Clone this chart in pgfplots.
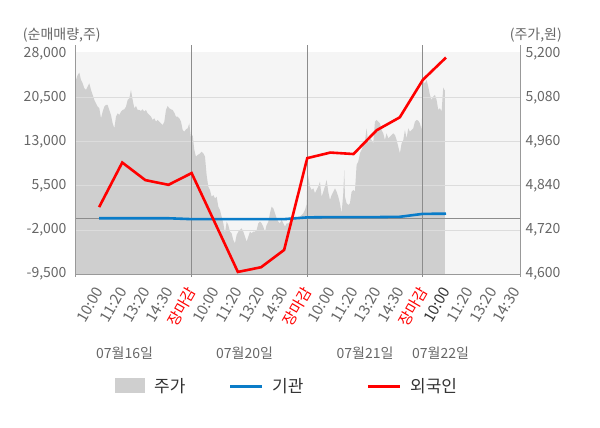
\documentclass[border=0pt]{standalone}
\usepackage{pgfplots}
\pgfplotsset{compat=1.18}
\usepackage{fontspec}
\setmainfont{Noto Sans CJK KR}[Kerning=Off]
\definecolor{bgc}{HTML}{F5F5F5}
\definecolor{areac}{HTML}{CFCFCF}
\definecolor{gridc}{HTML}{DCDCDC}
\definecolor{vgridc}{HTML}{8C8C8C}
\definecolor{axisc}{HTML}{999999}
\definecolor{tickc}{HTML}{666666}
\definecolor{darkc}{HTML}{333333}
\definecolor{redc}{HTML}{FF0000}
\definecolor{bluec}{HTML}{0A7CC8}
\newcommand{\tfont}{\fontsize{14bp}{16bp}\selectfont}
\newcommand{\xfont}{\fontsize{15bp}{17bp}\selectfont}
\newcommand{\lfont}{\fontsize{17bp}{20bp}\selectfont}
\begin{document}
\begin{tikzpicture}
\path[use as bounding box] (-76bp,-154bp) rectangle (524bp,274bp);
\fill[bgc] (0,0) rectangle (444bp,222bp);
% price area (right axis)
\begin{axis}[
  scale only axis, width=444bp, height=229bp,
  xmin=0, xmax=19.2, ymin=4600, ymax=5224.5,
  scaled x ticks=false, scaled y ticks=false,
  axis x line=none, axis y line*=right,
  y axis line style={draw=axisc, line width=1bp},
  ytick={4600,4720,4840,4960,5080,5200},
  yticklabels={{4,600},{4,720},{4,840},{4,960},{5,080},{5,200}},
  major tick length=0,
  yticklabel style={font=\tfont, text=tickc, xshift=2bp},
]
\addplot[fill=areac, draw=none] coordinates {
(0.000,5129.1)(0.072,5142.7)(0.144,5149.1)(0.216,5129.1)(0.288,5120.0)(0.360,5106.4)(0.432,5101.8)(0.504,5110.9)(0.576,5120.0)(0.649,5101.8)(0.721,5088.2)(0.793,5074.5)(0.865,5065.4)(0.937,5056.4)(1.009,5051.8)(1.081,5024.5)(1.153,5042.7)(1.225,5056.4)(1.297,5060.9)(1.369,5060.9)(1.441,5047.3)(1.513,5033.6)(1.585,5010.9)(1.657,4997.3)(1.729,5029.1)(1.801,5038.2)(1.873,5033.6)(1.946,5042.7)(2.018,5047.3)(2.090,5049.1)(2.162,5056.4)(2.234,5074.5)(2.306,5079.1)(2.378,5101.8)(2.450,5074.5)(2.522,5051.8)(2.594,5058.2)(2.666,5047.3)(2.738,5047.3)(2.810,5044.5)(2.882,5049.1)(2.954,5042.7)(3.026,5047.3)(3.098,5038.2)(3.170,5033.6)(3.243,5029.1)(3.315,5020.0)(3.387,5024.5)(3.459,5015.4)(3.531,5020.0)(3.603,5015.4)(3.675,5010.9)(3.747,5006.4)(3.819,5015.4)(3.891,5047.3)(3.963,5058.2)(4.035,5051.8)(4.107,5049.1)(4.179,5047.3)(4.251,5040.0)(4.323,5029.1)(4.395,5029.1)(4.467,5024.5)(4.540,5015.4)(4.612,4992.7)(4.684,4988.2)(4.756,4994.5)(4.828,4997.3)(4.900,5010.9)(4.972,4970.0)(5.044,4979.1)(5.116,4938.2)(5.188,4920.0)(5.260,4924.5)(5.332,4927.3)
(5.361,4929.1)(5.433,4933.6)(5.505,4929.1)(5.577,4920.0)(5.649,4870.0)(5.721,4838.2)(5.794,4829.1)(5.866,4810.9)(5.938,4815.4)(6.010,4806.4)(6.082,4810.9)(6.154,4783.6)(6.226,4774.5)(6.298,4756.4)(6.370,4738.2)(6.442,4710.9)(6.514,4742.7)(6.586,4733.6)(6.658,4715.4)(6.730,4710.9)(6.802,4692.7)(6.874,4683.6)(6.946,4706.4)(7.018,4715.4)(7.090,4720.0)(7.163,4724.5)(7.235,4715.4)(7.307,4701.8)(7.379,4688.2)(7.451,4701.8)(7.523,4715.4)(7.595,4710.9)(7.667,4715.4)(7.739,4715.4)(7.811,4720.0)(7.883,4738.2)(7.955,4742.7)(8.027,4738.2)(8.099,4729.1)(8.171,4715.4)(8.243,4733.6)(8.316,4742.7)(8.388,4765.5)(8.460,4783.6)(8.532,4779.1)(8.604,4765.5)(8.676,4751.8)(8.748,4742.7)(8.820,4738.2)(8.892,4747.3)(8.964,4738.2)(9.036,4729.1)(9.108,4738.2)(9.180,4738.2)(9.252,4742.7)(9.324,4733.6)(9.396,4747.3)(9.468,4751.8)(9.540,4747.3)(9.613,4751.8)(9.685,4756.4)(9.757,4760.9)(9.829,4765.5)(9.901,4774.5)(9.973,4790.0)(10.010,4874.5)(10.045,4865.5)(10.117,4838.2)(10.189,4829.1)(10.261,4833.6)(10.333,4820.0)(10.405,4829.1)(10.477,4838.2)
(10.549,4851.8)(10.621,4810.9)(10.693,4824.5)(10.765,4838.2)(10.837,4856.4)(10.909,4824.5)(10.982,4801.8)(11.054,4815.4)(11.126,4824.5)(11.198,4833.6)(11.270,4824.5)(11.342,4810.9)(11.414,4792.7)(11.486,4765.5)(11.558,4820.0)(11.601,4883.6)(11.630,4810.9)(11.702,4792.7)(11.774,4788.2)(11.846,4792.7)(11.918,4824.5)(11.990,4829.1)(12.062,4824.5)(12.134,4897.3)(12.206,4906.4)(12.279,4929.1)(12.351,4938.2)(12.423,4951.8)(12.495,4960.9)(12.567,4997.3)(12.639,4956.4)(12.711,4970.0)(12.783,4965.4)(12.855,4956.4)(12.927,5015.4)(12.999,5020.0)(13.071,5015.4)(13.143,5010.9)(13.215,4992.7)(13.287,4983.6)(13.359,4965.4)(13.431,4983.6)(13.504,4970.0)(13.576,4974.5)(13.648,4979.1)(13.720,4983.6)(13.792,4979.1)(13.864,4965.4)(13.936,4947.3)(14.008,4929.1)(14.080,4956.4)(14.152,4965.4)(14.224,4992.7)(14.296,4970.0)(14.368,4997.3)(14.440,4988.2)(14.512,4992.7)(14.584,4997.3)(14.656,5015.4)(14.728,5020.0)(14.801,5018.2)(14.873,5010.9)(14.945,4992.7)(15.017,5124.5)(15.089,5120.0)(15.161,5129.1)(15.233,5110.9)(15.305,5088.2)(15.377,5074.5)(15.449,5083.6)(15.521,5088.2)(15.593,5074.5)(15.665,5047.3)(15.737,5051.8)(15.809,5042.7)(15.881,5108.2)(15.925,5101.8)(15.953,5101.8)
} \closedcycle;
\end{axis}
% net buying (left axis)
\begin{axis}[
  scale only axis, width=444bp, height=229bp,
  xmin=0, xmax=19.2, ymin=-9500, ymax=29534,
  scaled x ticks=false, scaled y ticks=false,
  axis x line*=bottom, axis y line*=left,
  x axis line style={draw=axisc, line width=1bp},
  y axis line style={draw=axisc, line width=1bp},
  ytick={-9500,-2000,5500,13000,20500,28000},
  yticklabels={{-9,500},{-2,000},{5,500},{13,000},{20,500},{28,000}},
  yticklabel style={font=\tfont, text=tickc, xshift=-6bp},
  extra y ticks={-2000,5500,13000,20500},
  extra y tick labels={},
  extra y tick style={grid=major, major grid style={draw=gridc, line width=1bp}},
  xtick={1,...,19},
  xticklabels={10:00,11:20,13:20,14:30,\textcolor{redc}{장마감},10:00,11:20,13:20,14:30,\textcolor{redc}{장마감},10:00,11:20,13:20,14:30,\textcolor{redc}{장마감},\textcolor{darkc}{10:00},11:20,13:20,14:30},
  xticklabel style={font=\xfont, text=tickc, xshift=0.5bp, yshift=-14.5bp, rotate=60, anchor=east, inner sep=0pt},
  major tick length=0,
  clip=false,
]
% session-close separators and small ticks below the axis
\addplot[vgridc, line width=1bp] coordinates {(5,-10010) (5,29534)};
\addplot[vgridc, line width=1bp] coordinates {(10,-10010) (10,29534)};
\addplot[vgridc, line width=1bp] coordinates {(15,-10010) (15,29534)};
\addplot[axisc, line width=1bp] coordinates {(0,-10010) (0,-9500)};
\addplot[axisc, line width=1bp] coordinates {(19.2,-10010) (19.2,-9500)};
\addplot[vgridc, line width=1bp] coordinates {(0,0) (19.2,0)};
\addplot[bluec, line width=2.6bp] coordinates {
(1,0)(2,0)(3,0)(4,0)(5,-150)(6,-150)(7,-150)(8,-150)(9,-150)(10,150)(11,200)(12,200)(13,200)(14,250)(15,750)(16,780)};
\addplot[redc, line width=2.6bp] coordinates {
(1,1900)(2,9500)(3,6500)(4,5700)(5,7700)(6,-700)(7,-9150)(8,-8350)(9,-5400)(10,10250)(11,11200)(12,10950)(13,15000)(14,17200)(15,23600)(16,27400)};
\end{axis}
% header labels
\node[anchor=west, text=tickc, font=\tfont, inner sep=0] at (-53.3bp,239bp) {(순매매량,주)};
\node[anchor=east, text=tickc, font=\tfont, inner sep=0] at (486bp,239bp) {(주가,원)};
% date labels
\node[text=tickc, font=\tfont, inner sep=0] at (48.5bp,-79.5bp) {07월16일};
\node[text=tickc, font=\tfont, inner sep=0] at (168.5bp,-79.5bp) {07월20일};
\node[text=tickc, font=\tfont, inner sep=0] at (289bp,-79.5bp) {07월21일};
\node[text=tickc, font=\tfont, inner sep=0] at (364.5bp,-79.5bp) {07월22일};
% legend
\fill[areac] (39bp,-119bp) rectangle (69bp,-104bp);
\node[anchor=west, text=darkc, font=\lfont, inner sep=0] at (78bp,-112bp) {주가};
\draw[bluec, line width=3bp] (154bp,-112bp) -- (186bp,-112bp);
\node[anchor=west, text=darkc, font=\lfont, inner sep=0] at (196bp,-112bp) {기관};
\draw[redc, line width=3bp] (292bp,-112bp) -- (324bp,-112bp);
\node[anchor=west, text=darkc, font=\lfont, inner sep=0] at (334bp,-112bp) {외국인};
\end{tikzpicture}
\end{document}
